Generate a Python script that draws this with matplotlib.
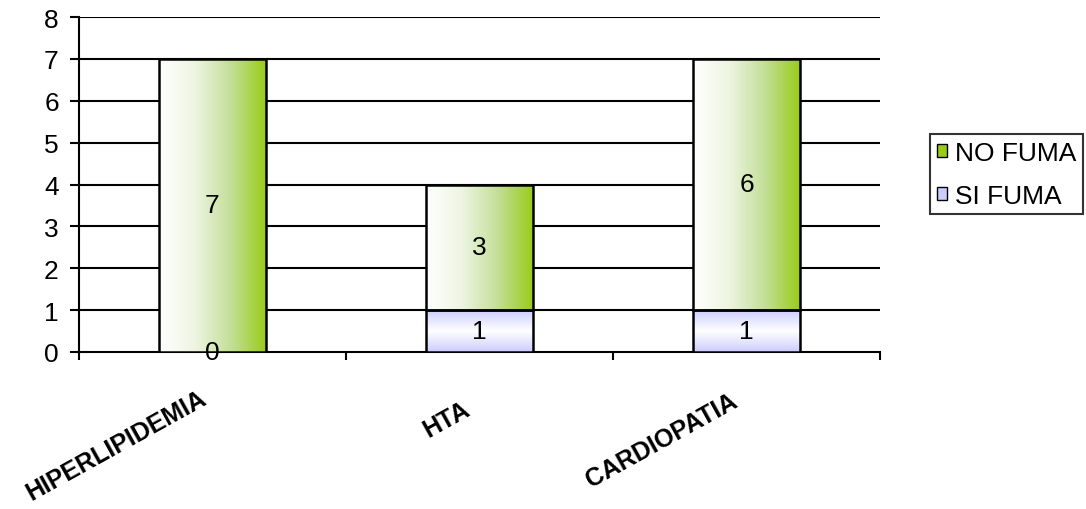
import numpy as np
import matplotlib
matplotlib.use("Agg")
import matplotlib.pyplot as plt
import matplotlib.transforms as mtransforms
from matplotlib.colors import LinearSegmentedColormap
from matplotlib.patches import Patch

categories = ["HIPERLIPIDEMIA", "HTA", "CARDIOPATIA"]
si_fuma = [0, 1, 1]
no_fuma = [7, 3, 6]
y_ticks = [0, 1, 2, 3, 4, 5, 6, 7, 8]

plt.rcParams["font.family"] = ["Liberation Sans", "DejaVu Sans"]

green_cmap = LinearSegmentedColormap.from_list("g", ["#ffffff", "#eef5e2", "#c4df9a", "#99cc1a"])
lav_cmap = LinearSegmentedColormap.from_list("l", ["#ccccff", "#ffffff", "#ccccff"])

fig = plt.figure(figsize=(10.86, 5.10), dpi=100)
ax = fig.add_axes([79 / 1086, 1 - 353 / 510, (880 - 79) / 1086, (353 - 18) / 510])

x = np.arange(len(categories))
width = 0.4
ax.set_xlim(-0.5, len(categories) - 0.5)
ax.set_ylim(0, 8)

for yy in y_ticks[1:]:
    ax.axhline(yy, color="black", lw=1.5, zorder=1)


def gradient_bar(xc, bottom, height, cmap, horizontal):
    if height <= 0:
        return
    bars = ax.bar(xc, height, width, bottom=bottom, facecolor="none",
                  edgecolor="black", lw=1.8, zorder=4)
    rect = bars[0]
    if horizontal:
        grad = np.linspace(0, 1, 256).reshape(1, -1)
    else:
        grad = np.linspace(0, 1, 256).reshape(-1, 1)
    im = ax.imshow(grad, cmap=cmap, aspect="auto", zorder=3,
                   extent=(xc - width / 2, xc + width / 2, bottom, bottom + height),
                   interpolation="bilinear")
    im.set_clip_path(rect)
    ax.set_xlim(-0.5, len(categories) - 0.5)
    ax.set_ylim(0, 8)


for i in range(len(categories)):
    gradient_bar(x[i], 0, si_fuma[i], lav_cmap, False)
    gradient_bar(x[i], si_fuma[i], no_fuma[i], green_cmap, True)
    ax.text(x[i], si_fuma[i] / 2, str(si_fuma[i]), ha="center", va="center",
            fontsize=19, zorder=5)
    ax.text(x[i], si_fuma[i] + no_fuma[i] / 2, str(no_fuma[i]), ha="center",
            va="center", fontsize=19, zorder=5)

ax.spines["top"].set_visible(False)
ax.spines["right"].set_visible(False)
for s in ("left", "bottom"):
    ax.spines[s].set_linewidth(1.5)

ax.set_yticks(y_ticks)
ax.tick_params(axis="y", direction="out", length=6.5, width=1.5, labelsize=19, pad=8)
ax.set_xticks(np.arange(-0.5, len(categories), 1.0))
ax.set_xticklabels([])
ax.tick_params(axis="x", direction="out", length=6, width=1.5)

# rotated category names, anchored at their top-right corner (offsets in pixels)
label_dx = [-14, -17, -17]
label_dy = [-33, -44, -36]
for i, name in enumerate(categories):
    tr = mtransforms.blended_transform_factory(
        mtransforms.offset_copy(ax.transData, fig=fig, x=label_dx[i], y=0, units="dots"),
        mtransforms.offset_copy(ax.transAxes, fig=fig, x=0, y=label_dy[i], units="dots"))
    ax.text(x[i], 0, name, rotation=29, ha="right", va="top",
            rotation_mode="anchor", fontsize=18, fontweight="bold",
            transform=tr, clip_on=False)

handles = [
    Patch(facecolor="#99cc1a", edgecolor="black", label="NO FUMA"),
    Patch(facecolor="#ccccff", edgecolor="black", label="SI FUMA"),
]
leg = fig.legend(handles=handles, loc="upper left", bbox_to_anchor=(930 / 1086, 1 - 135 / 510),
                 frameon=True, fancybox=False, edgecolor="black", fontsize=19,
                 handlelength=0.4, handleheight=0.4, handletextpad=0.3,
                 borderpad=0.25, labelspacing=0.72, borderaxespad=0)
leg.get_frame().set_linewidth(1.5)

fig.savefig("out.png", dpi=100)
